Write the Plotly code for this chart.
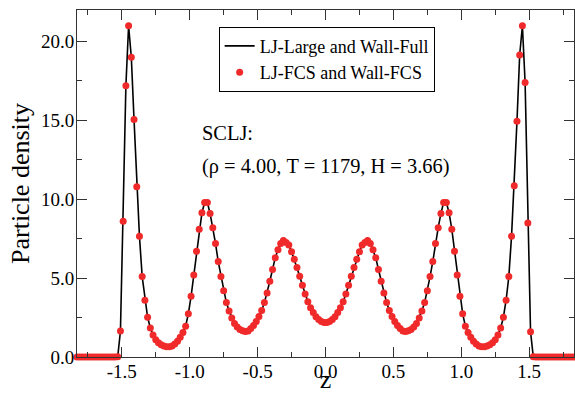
import numpy as np
import plotly.graph_objects as go

# bin centres of the density profile (regular 0.02 grid across the slit, H = 3.66)
z = np.round(np.arange(-1.83, 1.8301, 0.02), 2)

# LJ-Large and Wall-Full (black line)
rho_large = [
    0, 0, 0, 0, 0, 0, 0, 0, 0, 0, 0, 0, 0, 0, 0,
    0.02, 1.65, 8.6, 17.2, 21.0, 19.0, 15.05, 10.8, 7.65, 5.1, 3.6, 2.52,
    1.84, 1.40, 1.10, 0.90, 0.77, 0.69, 0.65, 0.65, 0.70, 0.82, 1.00, 1.25,
    1.55, 1.95, 2.75, 3.85, 5.2, 6.7, 8.1, 9.15, 9.8, 9.8, 9.1, 8.2,
    7.2, 6.05, 5.1, 4.2, 3.45, 2.92, 2.48, 2.12, 1.90, 1.75, 1.66, 1.62,
    1.65, 1.80, 2.00, 2.25, 2.57, 2.95, 3.45, 4.05, 4.8, 5.55, 6.3, 6.8,
    7.2, 7.38, 7.26, 7.1, 6.68, 6.2, 5.68, 5.12, 4.55, 4.0, 3.5, 3.12,
    2.82, 2.55, 2.38, 2.25, 2.18,
    2.18, 2.25, 2.38, 2.55, 2.82,
    3.12, 3.5, 4.0, 4.55, 5.12, 5.68, 6.2, 6.68, 7.1, 7.26, 7.38, 7.2,
    6.8, 6.3, 5.55, 4.8, 4.05, 3.45, 2.95, 2.57, 2.25, 2.00, 1.80, 1.65,
    1.62, 1.66, 1.75, 1.90, 2.12, 2.48, 2.92, 3.45, 4.2, 5.1, 6.05, 7.2,
    8.2, 9.1, 9.8, 9.8, 9.15, 8.1, 6.7, 5.2, 3.85, 2.75, 1.95, 1.55,
    1.25, 1.00, 0.82, 0.70, 0.65, 0.65, 0.69, 0.77, 0.90, 1.10, 1.40, 1.84,
    2.52, 3.6, 5.1, 7.65, 10.86, 14.94, 19.15, 21.0, 17.4, 8.5, 1.6, 0.02,
    0, 0, 0, 0, 0, 0, 0, 0, 0, 0, 0, 0, 0, 0, 0,
]

# LJ-FCS and Wall-FCS (red dots)
rho_fcs = [
    0, 0, 0, 0, 0, 0, 0, 0, 0, 0, 0, 0, 0, 0, 0,
    0.02, 1.65, 8.6, 17.2, 21.0, 19.0, 15.05, 10.8, 7.65, 5.1, 3.6, 2.52,
    1.84, 1.40, 1.10, 0.90, 0.77, 0.69, 0.65, 0.65, 0.70, 0.82, 1.00, 1.25,
    1.55, 1.95, 2.75, 3.85, 5.2, 6.7, 8.1, 9.15, 9.8, 9.8, 9.1, 8.2,
    7.2, 6.05, 5.1, 4.2, 3.45, 2.92, 2.48, 2.12, 1.90, 1.75, 1.66, 1.62,
    1.65, 1.80, 2.00, 2.25, 2.57, 2.95, 3.45, 4.05, 4.8, 5.55, 6.3, 6.8,
    7.2, 7.38, 7.26, 7.1, 6.68, 6.2, 5.68, 5.12, 4.55, 4.0, 3.5, 3.12,
    2.82, 2.55, 2.38, 2.25, 2.18,
    2.18, 2.25, 2.38, 2.55, 2.82,
    3.12, 3.5, 4.0, 4.55, 5.12, 5.68, 6.2, 6.68, 7.1, 7.26, 7.38, 7.2,
    6.8, 6.3, 5.55, 4.8, 4.05, 3.45, 2.95, 2.57, 2.25, 2.00, 1.80, 1.65,
    1.62, 1.66, 1.75, 1.90, 2.12, 2.48, 2.92, 3.45, 4.2, 5.1, 6.05, 7.2,
    8.2, 9.1, 9.8, 9.8, 9.15, 8.1, 6.7, 5.2, 3.85, 2.75, 1.95, 1.55,
    1.25, 1.00, 0.82, 0.70, 0.65, 0.65, 0.69, 0.77, 0.90, 1.10, 1.40, 1.84,
    2.52, 3.6, 5.1, 7.65, 10.86, 14.94, 19.15, 21.0, 17.4, 8.5, 1.6, 0.02,
    0, 0, 0, 0, 0, 0, 0, 0, 0, 0, 0, 0, 0, 0, 0,
]

x_ticks = [-1.5, -1.0, -0.5, 0.0, 0.5, 1.0, 1.5]
x_tick_labels = ["-1.5", "-1.0", "-0.5", "0.0", "0.5", "1.0", "1.5"]
y_ticks = [0, 5, 10, 15, 20]
y_tick_labels = ["0.0", "5.0", "10.0", "15.0", "20.0"]

FONT = "Liberation Serif, Times New Roman, serif"

fig = go.Figure()
fig.add_trace(go.Scatter(x=z, y=rho_large, mode="lines", name="LJ-Large and Wall-Full",
                         line=dict(color="black", width=1.6)))
fig.add_trace(go.Scatter(x=z, y=rho_fcs, mode="markers", name="LJ-FCS and Wall-FCS",
                         marker=dict(color="#f02a2a", size=7), cliponaxis=False))

axis_common = dict(ticks="inside", ticklen=10, tickwidth=1, tickcolor="#333",
                   showline=True, linecolor="#333", linewidth=1, mirror="allticks",
                   showgrid=False, zeroline=False, automargin=False,
                   tickfont=dict(family=FONT, size=19, color="black"))

fig.update_xaxes(range=[-1.83, 1.83], tickmode="array", tickvals=x_ticks, ticktext=x_tick_labels,
                 minor=dict(tick0=0, dtick=0.25, ticks="inside", ticklen=5, tickcolor="#333"),
                 ticklabelstandoff=-3,
                 title=dict(text="z", font=dict(family=FONT, size=26), standoff=14),
                 **axis_common)
fig.update_yaxes(range=[0, 22], tickmode="array", tickvals=y_ticks, ticktext=y_tick_labels,
                 minor=dict(tick0=0, dtick=2.5, ticks="inside", ticklen=5, tickcolor="#333"),
                 ticklabelstandoff=-2,
                 title=dict(text="Particle density", font=dict(family=FONT, size=26), standoff=3),
                 **axis_common)

fig.add_annotation(text="SCLJ:", xref="paper", yref="paper", x=0.2475, y=0.6455,
                   xanchor="left", yanchor="middle", showarrow=False,
                   font=dict(family=FONT, size=20.4))
fig.add_annotation(text="(ρ = 4.00, T = 1179, H = 3.66)", xref="paper", yref="paper",
                   x=0.2475, y=0.5504, xanchor="left", yanchor="middle", showarrow=False,
                   font=dict(family=FONT, size=20.4))

fig.update_layout(
    width=575, height=394,
    margin=dict(l=77, r=1, t=10, b=37),
    paper_bgcolor="white", plot_bgcolor="white",
    font=dict(family=FONT, size=19, color="black"),
    legend=dict(x=0.285, y=0.952, xanchor="left", yanchor="top",
                bordercolor="black", borderwidth=1, bgcolor="white",
                font=dict(family=FONT, size=18), tracegroupgap=0),
)

# drop the page's default body margin so the figure sits at the window's corner
fig.write_html("out.html", config={"displayModeBar": False},
               post_script="document.body.style.margin = '0';")
